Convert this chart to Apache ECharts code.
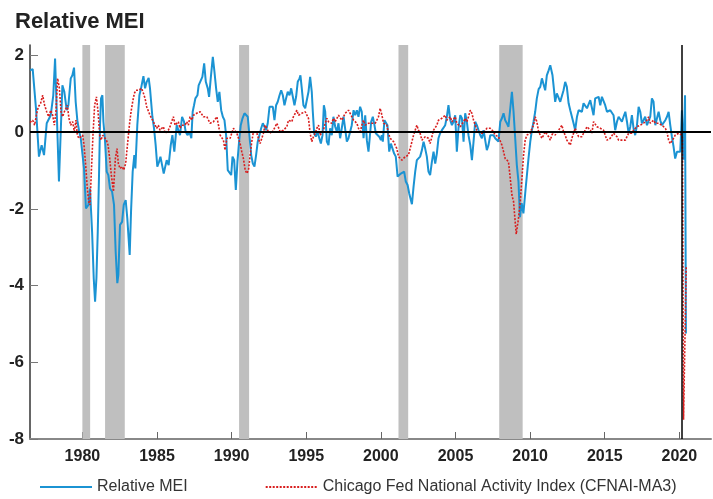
<!DOCTYPE html>
<html>
<head>
<meta charset="utf-8">
<script src="https://cdn.jsdelivr.net/npm/echarts@6/dist/echarts.min.js"></script>
<style>
html,body{margin:0;padding:0;background:#fff;}
#chart{width:713px;height:499px;}
</style>
</head>
<body>
<div id="chart"></div>
<script>
// Relative MEI (year, value)
const meiData = [
[1976.49,1.61],[1976.67,1.64],[1976.89,0.62],[1977.09,-0.64],[1977.27,-0.34],[1977.43,-0.60],[1977.61,0.23],[1977.72,0.18],[1977.88,0.44],[1978.05,0.96],[1978.17,1.92],[1978.43,-1.29],[1978.66,1.22],[1978.79,1.05],[1978.95,0.57],[1979.06,0.70],[1979.22,1.40],[1979.33,1.48],[1979.44,1.68],[1979.55,0.79],[1979.66,0.31],[1979.77,0.05],[1979.89,-0.16],
[1980.11,-0.95],[1980.24,-1.99],[1980.40,-1.90],[1980.51,-1.47],[1980.65,-2.60],[1980.76,-3.81],[1980.85,-4.42],[1980.94,-3.81],[1981.03,-2.60],[1981.11,-1.21],[1981.18,0.18],[1981.25,0.88],[1981.34,0.96],[1981.41,0.27],[1981.52,-0.25],[1981.63,-1.03],[1981.74,-1.12],[1981.85,-1.47],[1981.99,-1.55],[1982.12,-1.90],[1982.23,-3.12],[1982.34,-3.94],[1982.41,-3.72],[1982.52,-2.42],[1982.66,-2.34],[1982.77,-1.90],[1982.90,-1.77],[1983.01,-2.25],[1983.17,-3.20],[1983.26,-2.07],[1983.37,-1.03],[1983.48,-0.60],[1983.55,-0.95],[1983.68,0.18],[1983.82,0.96],[1983.93,1.14],[1984.09,1.46],[1984.20,1.14],[1984.31,1.31],[1984.44,1.41],[1984.53,1.14],[1984.69,0.40],[1984.80,0.10],[1984.91,-0.34],
[1985.02,-0.90],[1985.14,-0.77],[1985.23,-0.64],[1985.34,-0.86],[1985.45,-1.08],[1985.54,-1.12],[1985.65,-0.73],[1985.78,-0.86],[1985.92,-0.34],[1986.03,-0.08],[1986.16,-0.51],[1986.32,0.18],[1986.43,0.05],[1986.54,-0.08],[1986.68,0.40],[1986.81,0.27],[1986.92,0.01],[1987.04,-0.08],[1987.17,0.01],[1987.30,-0.16],[1987.39,0.53],[1987.48,0.70],[1987.57,0.88],[1987.71,0.96],[1987.79,1.22],[1987.91,1.27],[1988.04,1.44],[1988.16,1.79],[1988.27,1.31],[1988.40,1.14],[1988.49,0.92],[1988.60,1.40],[1988.74,1.96],[1988.85,1.57],[1988.96,1.14],[1989.07,0.79],[1989.18,1.05],[1989.30,0.57],[1989.41,0.40],[1989.52,0.31],[1989.63,-0.08],[1989.74,-0.99],[1989.85,-0.99],[1989.97,-1.12],
[1990.06,-0.64],[1990.17,-0.73],[1990.28,-1.51],[1990.39,-0.77],[1990.50,-0.25],[1990.61,0.18],[1990.73,0.36],[1990.86,0.49],[1990.97,0.53],[1991.08,0.40],[1991.20,-0.12],[1991.31,-0.60],[1991.42,-0.82],[1991.53,-0.90],[1991.64,-0.60],[1991.75,-0.25],[1991.86,-0.08],[1991.98,0.10],[1992.09,0.23],[1992.20,0.14],[1992.31,0.05],[1992.42,0.23],[1992.54,0.66],[1992.65,0.62],[1992.76,0.66],[1992.87,0.31],[1992.98,0.70],[1993.09,0.79],[1993.21,0.96],[1993.32,1.09],[1993.43,0.96],[1993.54,0.70],[1993.65,0.88],[1993.76,1.05],[1993.88,0.96],[1993.99,1.14],[1994.10,0.92],[1994.21,0.70],[1994.32,0.92],[1994.43,1.31],[1994.55,1.40],[1994.61,1.48],[1994.70,1.14],[1994.81,0.70],[1994.93,0.62],
[1995.04,0.66],[1995.15,1.05],[1995.26,1.44],[1995.37,1.05],[1995.44,0.53],[1995.53,-0.03],[1995.64,-0.12],[1995.75,0.01],[1995.86,-0.03],[1995.98,-0.30],[1996.09,-0.08],[1996.18,0.70],[1996.27,0.53],[1996.38,-0.25],[1996.49,-0.34],[1996.60,0.10],[1996.71,-0.08],[1996.82,0.40],[1996.94,0.14],[1997.05,0.01],[1997.16,0.23],[1997.27,-0.16],[1997.38,0.10],[1997.50,0.40],[1997.61,0.44],[1997.72,-0.25],[1997.83,-0.16],[1997.94,0.01],[1998.05,0.18],[1998.17,0.57],[1998.28,0.44],[1998.39,0.57],[1998.50,0.40],[1998.61,0.66],[1998.72,0.53],[1998.84,-0.16],[1998.95,0.44],[1999.06,-0.21],[1999.17,-0.51],[1999.35,0.27],[1999.46,0.40],[1999.57,0.18],[1999.66,-0.03],[1999.77,-0.08],[1999.89,-0.12],
[2000.00,-0.21],[2000.06,-0.08],[2000.13,-0.25],[2000.24,0.31],[2000.36,0.27],[2000.44,0.18],[2000.56,-0.51],[2000.67,-0.30],[2000.78,-0.34],[2000.89,-0.56],[2001.00,-0.64],[2001.12,-1.16],[2001.23,-1.21],[2001.34,-1.08],[2001.45,-1.03],[2001.56,-1.03],[2001.67,-1.29],[2001.79,-1.38],[2001.90,-1.60],[2002.08,-1.88],[2002.19,-1.42],[2002.30,-1.03],[2002.41,-0.73],[2002.52,-0.69],[2002.63,-0.64],[2002.75,-0.47],[2002.86,-0.25],[2002.97,-0.43],[2003.08,-0.64],[2003.19,-1.03],[2003.30,-1.12],[2003.42,-0.77],[2003.53,-0.51],[2003.64,-0.82],[2003.75,-0.56],[2003.86,-0.16],[2003.97,-0.03],[2004.09,0.05],[2004.20,0.10],[2004.31,0.18],[2004.42,0.40],[2004.53,0.70],[2004.65,0.31],[2004.76,0.18],[2004.87,0.27],[2004.98,0.44],
[2005.09,-0.51],[2005.20,0.10],[2005.32,0.44],[2005.43,0.36],[2005.54,-0.25],[2005.65,0.49],[2005.76,0.27],[2005.87,-0.08],[2005.99,-0.34],[2006.10,-0.73],[2006.21,-0.25],[2006.32,0.27],[2006.43,0.18],[2006.54,0.05],[2006.66,-0.08],[2006.77,-0.16],[2006.88,0.05],[2006.99,-0.21],[2007.10,-0.47],[2007.21,-0.34],[2007.33,-0.08],[2007.44,-0.03],[2007.55,-0.08],[2007.66,-0.16],[2007.77,-0.21],[2007.88,-0.25],[2008.00,0.27],[2008.11,0.36],[2008.22,0.49],[2008.33,0.31],[2008.44,0.23],[2008.55,0.14],[2008.67,0.62],[2008.78,1.05],[2008.89,0.53],[2009.00,-0.16],[2009.11,-0.86],[2009.22,-1.29],[2009.32,-2.22],[2009.43,-1.85],[2009.55,-2.12],[2009.70,-1.47],[2009.89,-0.69],
[2010.01,-0.25],[2010.12,0.05],[2010.23,0.27],[2010.34,0.53],[2010.45,0.88],[2010.57,1.12],[2010.68,1.18],[2010.79,1.40],[2010.90,1.35],[2011.01,1.09],[2011.12,1.48],[2011.24,1.61],[2011.35,1.74],[2011.41,1.79],[2011.50,1.48],[2011.59,1.14],[2011.68,0.79],[2011.79,1.01],[2011.91,1.05],[2012.02,0.79],[2012.13,0.83],[2012.24,1.09],[2012.35,1.31],[2012.46,1.18],[2012.58,0.75],[2012.69,0.57],[2012.80,0.40],[2012.91,0.23],[2013.02,0.05],[2013.14,0.40],[2013.25,0.57],[2013.36,0.62],[2013.47,0.53],[2013.58,0.75],[2013.69,0.79],[2013.81,0.62],[2013.92,0.57],[2014.03,0.83],[2014.14,0.88],[2014.25,0.44],[2014.36,0.88],[2014.48,0.83],[2014.59,0.92],[2014.70,0.70],[2014.81,0.92],[2014.92,0.96],
[2015.03,0.70],[2015.15,0.53],[2015.26,0.53],[2015.37,0.57],[2015.48,0.57],[2015.59,0.44],[2015.70,0.05],[2015.82,0.27],[2015.93,0.40],[2016.04,0.44],[2016.15,0.27],[2016.26,0.40],[2016.38,0.53],[2016.49,0.27],[2016.60,-0.03],[2016.71,0.14],[2016.82,0.44],[2016.93,0.10],[2017.04,-0.08],[2017.16,0.18],[2017.27,0.66],[2017.38,0.53],[2017.49,0.23],[2017.60,0.31],[2017.71,0.40],[2017.83,0.18],[2017.94,0.14],[2018.05,0.40],[2018.16,0.88],[2018.27,0.79],[2018.39,0.18],[2018.50,0.36],[2018.61,0.53],[2018.72,0.31],[2018.83,0.18],[2018.94,0.23],[2019.06,0.31],[2019.17,0.40],[2019.28,0.53],[2019.39,0.18],[2019.50,-0.12],[2019.61,-0.38],[2019.72,-0.69],[2019.84,-0.51],[2019.95,-0.56],[2020.06,-0.51],
[2020.12,0.01],[2020.17,0.57],[2020.28,-0.72],[2020.38,0.96],[2020.44,-5.25]
];

// Chicago Fed National Activity Index, 3-month average (year, value)
const cfnaiData = [
[1976.49,0.25],[1976.67,0.31],[1976.80,0.18],[1976.94,0.49],[1977.05,0.66],[1977.20,0.75],[1977.34,0.96],[1977.47,0.70],[1977.61,0.53],[1977.74,0.40],[1977.88,0.57],[1978.01,0.44],[1978.12,0.18],[1978.23,0.53],[1978.34,1.40],[1978.46,1.14],[1978.57,0.53],[1978.68,0.40],[1978.79,0.53],[1978.90,0.62],[1978.99,0.70],[1979.10,0.36],[1979.22,0.18],[1979.35,0.27],[1979.46,0.01],[1979.57,0.31],[1979.66,-0.08],[1979.77,-0.16],[1979.89,-0.12],
[1980.02,-0.08],[1980.11,-0.34],[1980.22,-0.86],[1980.33,-1.47],[1980.42,-1.81],[1980.51,-1.90],[1980.60,-1.03],[1980.71,-0.08],[1980.82,0.70],[1980.94,0.92],[1981.05,0.53],[1981.16,-0.08],[1981.25,-0.21],[1981.36,-0.08],[1981.49,-0.08],[1981.61,-0.21],[1981.72,-0.34],[1981.83,-0.69],[1981.94,-1.12],[1982.08,-1.55],[1982.21,-0.69],[1982.32,-0.43],[1982.41,-0.82],[1982.52,-0.95],[1982.66,-0.90],[1982.77,-0.99],[1982.90,-0.82],[1983.04,-0.25],[1983.15,0.18],[1983.26,0.53],[1983.37,0.79],[1983.48,1.01],[1983.59,1.09],[1983.75,1.09],[1983.86,1.05],[1983.97,1.14],[1984.09,1.01],[1984.20,0.88],[1984.31,0.66],[1984.42,0.62],[1984.53,0.44],[1984.64,0.36],[1984.76,0.27],[1984.87,0.18],[1984.98,0.10],
[1985.09,0.18],[1985.20,0.05],[1985.31,0.10],[1985.43,0.14],[1985.54,-0.03],[1985.65,-0.08],[1985.76,0.05],[1985.87,0.14],[1985.98,0.27],[1986.10,0.40],[1986.21,0.18],[1986.32,0.14],[1986.43,0.27],[1986.54,0.10],[1986.65,0.18],[1986.77,0.23],[1986.88,0.18],[1986.99,0.27],[1987.10,0.18],[1987.21,0.40],[1987.33,0.31],[1987.44,0.44],[1987.55,0.40],[1987.66,0.49],[1987.77,0.53],[1987.89,0.53],[1988.00,0.49],[1988.11,0.40],[1988.22,0.36],[1988.34,0.40],[1988.45,0.31],[1988.56,0.23],[1988.67,0.18],[1988.78,0.27],[1988.89,0.31],[1989.01,0.40],[1989.12,0.18],[1989.23,-0.08],[1989.34,-0.12],[1989.45,-0.21],[1989.56,-0.47],[1989.68,-0.16],[1989.79,-0.12],[1989.90,-0.16],
[1990.01,-0.03],[1990.12,0.10],[1990.23,0.14],[1990.35,-0.03],[1990.46,-0.16],[1990.57,-0.30],[1990.68,-0.51],[1990.79,-0.69],[1990.91,-0.99],[1991.02,-1.08],[1991.13,-0.99],[1991.24,-0.60],[1991.35,-0.25],[1991.46,0.01],[1991.58,0.05],[1991.69,-0.03],[1991.80,-0.03],[1991.91,-0.30],[1992.02,-0.34],[1992.13,-0.03],[1992.24,0.18],[1992.36,0.14],[1992.47,0.01],[1992.58,0.05],[1992.69,-0.03],[1992.80,0.01],[1992.92,0.14],[1993.03,0.23],[1993.14,0.18],[1993.25,0.01],[1993.36,-0.03],[1993.47,0.05],[1993.59,0.01],[1993.70,0.14],[1993.81,0.31],[1993.92,0.36],[1994.03,0.27],[1994.14,0.40],[1994.26,0.49],[1994.37,0.57],[1994.48,0.44],[1994.59,0.40],[1994.70,0.49],[1994.81,0.44],[1994.93,0.53],
[1995.04,0.57],[1995.15,0.36],[1995.26,-0.03],[1995.37,-0.25],[1995.48,-0.12],[1995.60,-0.03],[1995.71,0.10],[1995.82,0.18],[1995.93,-0.08],[1996.04,-0.03],[1996.15,0.05],[1996.27,0.23],[1996.38,0.36],[1996.49,0.27],[1996.60,0.31],[1996.71,0.23],[1996.82,0.36],[1996.94,0.27],[1997.05,0.31],[1997.16,0.44],[1997.27,0.40],[1997.38,0.31],[1997.50,0.40],[1997.61,0.49],[1997.72,0.53],[1997.83,0.57],[1997.94,0.49],[1998.05,0.40],[1998.17,0.31],[1998.28,0.36],[1998.39,0.23],[1998.50,0.10],[1998.61,-0.03],[1998.72,0.18],[1998.84,0.31],[1998.95,0.18],[1999.06,0.23],[1999.17,0.23],[1999.28,0.27],[1999.39,0.23],[1999.51,0.18],[1999.62,0.23],[1999.73,0.31],[1999.84,0.40],[1999.95,0.62],
[2000.07,0.44],[2000.18,0.23],[2000.29,0.27],[2000.40,0.18],[2000.51,-0.03],[2000.62,-0.16],[2000.74,-0.12],[2000.85,-0.25],[2000.96,-0.34],[2001.07,-0.43],[2001.18,-0.64],[2001.29,-0.69],[2001.41,-0.73],[2001.52,-0.69],[2001.63,-0.64],[2001.74,-0.60],[2001.85,-0.60],[2001.96,-0.43],[2002.08,-0.25],[2002.19,-0.08],[2002.30,0.05],[2002.41,0.18],[2002.52,0.05],[2002.63,-0.03],[2002.75,-0.21],[2002.86,-0.16],[2002.97,-0.12],[2003.08,-0.08],[2003.19,-0.16],[2003.30,-0.30],[2003.42,-0.12],[2003.53,0.05],[2003.64,0.10],[2003.75,0.18],[2003.86,0.31],[2003.97,0.27],[2004.09,0.36],[2004.20,0.40],[2004.31,0.44],[2004.42,0.31],[2004.53,0.27],[2004.65,0.40],[2004.76,0.27],[2004.87,0.31],[2004.98,0.40],
[2005.09,0.23],[2005.20,0.18],[2005.32,0.14],[2005.43,0.18],[2005.54,0.27],[2005.65,0.36],[2005.76,0.27],[2005.87,0.40],[2005.99,0.57],[2006.10,0.49],[2006.21,0.31],[2006.32,0.18],[2006.43,0.05],[2006.54,0.01],[2006.66,-0.03],[2006.77,-0.08],[2006.88,-0.03],[2006.99,0.01],[2007.10,0.10],[2007.21,0.14],[2007.33,0.10],[2007.44,0.05],[2007.55,0.01],[2007.66,-0.08],[2007.77,-0.08],[2007.88,-0.12],[2008.00,-0.16],[2008.11,-0.34],[2008.22,-0.51],[2008.33,-0.69],[2008.44,-0.73],[2008.55,-0.77],[2008.67,-1.21],[2008.78,-1.64],[2008.89,-1.81],[2009.00,-2.34],[2009.07,-2.66],[2009.22,-2.25],[2009.34,-1.81],[2009.45,-1.21],[2009.56,-0.60],[2009.67,-0.21],[2009.78,-0.08],[2009.89,-0.12],
[2010.01,-0.03],[2010.12,0.10],[2010.23,0.18],[2010.34,0.40],[2010.45,0.27],[2010.57,0.01],[2010.68,-0.08],[2010.79,-0.16],[2010.90,-0.08],[2011.01,0.01],[2011.12,-0.03],[2011.24,-0.12],[2011.35,-0.21],[2011.46,-0.08],[2011.57,0.01],[2011.68,-0.08],[2011.79,-0.03],[2011.91,0.05],[2012.02,0.10],[2012.13,0.18],[2012.24,0.01],[2012.35,-0.08],[2012.46,-0.21],[2012.58,-0.25],[2012.69,-0.34],[2012.80,-0.16],[2012.91,-0.03],[2013.02,0.10],[2013.14,-0.03],[2013.25,-0.12],[2013.36,-0.12],[2013.47,-0.12],[2013.58,-0.03],[2013.69,0.05],[2013.81,0.14],[2013.92,0.18],[2014.03,0.05],[2014.14,-0.03],[2014.25,0.27],[2014.36,0.23],[2014.48,0.14],[2014.59,0.18],[2014.70,0.10],[2014.81,0.14],[2014.92,0.05],
[2015.03,-0.08],[2015.15,-0.21],[2015.26,-0.16],[2015.37,-0.16],[2015.48,-0.12],[2015.59,-0.03],[2015.70,-0.03],[2015.82,-0.12],[2015.93,-0.21],[2016.04,-0.16],[2016.15,-0.21],[2016.26,-0.25],[2016.38,-0.21],[2016.49,-0.12],[2016.60,-0.03],[2016.71,-0.08],[2016.82,-0.03],[2016.93,0.05],[2017.04,0.10],[2017.16,0.14],[2017.27,0.10],[2017.38,0.18],[2017.49,0.14],[2017.60,0.23],[2017.71,0.27],[2017.83,0.31],[2017.94,0.40],[2018.05,0.23],[2018.16,0.27],[2018.27,0.31],[2018.39,0.23],[2018.50,0.18],[2018.61,0.23],[2018.72,0.27],[2018.83,0.18],[2018.94,0.14],[2019.06,0.10],[2019.17,0.01],[2019.28,-0.21],[2019.39,-0.30],[2019.50,-0.25],[2019.61,-0.16],[2019.72,-0.08],[2019.84,-0.12],[2019.95,-0.03],[2020.06,-0.08],
[2020.17,-0.08],[2020.21,-0.15],[2020.28,-7.50],[2020.40,-7.45],[2020.46,-3.50]
];

// NBER recessions [start, end]
const recessions = [[1980.00,1980.52],[1981.52,1982.84],[1990.50,1991.17],[2001.18,2001.83],[2007.93,2009.50]];
const xTickValues = [1980,1985,1990,1995,2000,2005,2010,2015,2020];
const yTickValues = [-8,-6,-4,-2,0,2];
const covidMarker = 2020.15;
const seriesNames = ['Relative MEI','Chicago Fed National Activity Index (CFNAI-MA3)'];

const chart = echarts.init(document.getElementById('chart'), null, {renderer:'canvas'});
chart.setOption({
  animation:false,
  backgroundColor:'#ffffff',
  title:{
    text:'Relative MEI', left:10, top:6, padding:[5,5,5,5],
    textStyle:{fontFamily:'Liberation Sans, Arial, sans-serif', fontSize:22, fontWeight:'bold', color:'#222'}
  },
  grid:{left:30, right:2, top:45, bottom:60, containLabel:false},
  legend:{
    data:seriesNames, left:39, top:479, padding:0, itemWidth:52, itemHeight:12, itemGap:77,
    itemStyle:{opacity:0},
    textStyle:{fontFamily:'Liberation Sans, Arial, sans-serif', fontSize:16, color:'#333'},
    selectedMode:false
  },
  xAxis:{
    type:'value', min:1976.49, max:2022.12,
    axisLine:{show:true, onZero:false, lineStyle:{color:'#888', width:2}},
    axisTick:{show:true, inside:true, length:7, customValues:xTickValues, lineStyle:{color:'#666', width:1}},
    axisLabel:{customValues:xTickValues, formatter:v=>String(Math.round(v)), fontFamily:'Liberation Sans, Arial, sans-serif', fontSize:16, fontWeight:'bold', color:'#222', margin:10},
    splitLine:{show:false}
  },
  yAxis:{
    type:'value', min:-8, max:2.27,
    axisLine:{show:true, lineStyle:{color:'#333', width:1.5}},
    axisTick:{show:true, inside:true, length:8, customValues:yTickValues, lineStyle:{color:'#777', width:1}},
    axisLabel:{customValues:yTickValues, formatter:v=>String(v), fontFamily:'Liberation Sans, Arial, sans-serif', fontSize:17, fontWeight:'bold', color:'#222', margin:6},
    splitLine:{show:false}
  },
  series:[
    {
      type:'line', name:'_rec', data:[], z:1, silent:true, showSymbol:false,
      markArea:{silent:true, itemStyle:{color:'#bfbfbf'},
        data:recessions.map(r=>[{xAxis:r[0]},{xAxis:r[1]}])}
    },
    {
      type:'line', name:seriesNames[0], data:meiData, z:3, showSymbol:false, symbol:'none',
      lineStyle:{color:'#1b93d3', width:2}, itemStyle:{color:'#1b93d3'}
    },
    {
      type:'line', name:seriesNames[1], data:cfnaiData, z:4, showSymbol:false, symbol:'none',
      lineStyle:{color:'#d81e1e', width:1.6, type:[2,1.5]}, itemStyle:{color:'#d81e1e'}
    },
    {
      type:'line', name:'_ref', data:[], z:5, silent:true, showSymbol:false,
      markLine:{silent:true, symbol:'none', label:{show:false},
        data:[
          {yAxis:0, lineStyle:{color:'#000', width:2, type:'solid'}},
          {xAxis:covidMarker, lineStyle:{color:'#000', width:1.5, type:'solid'}}
        ]}
    }
  ]
});
</script>
</body>
</html>
